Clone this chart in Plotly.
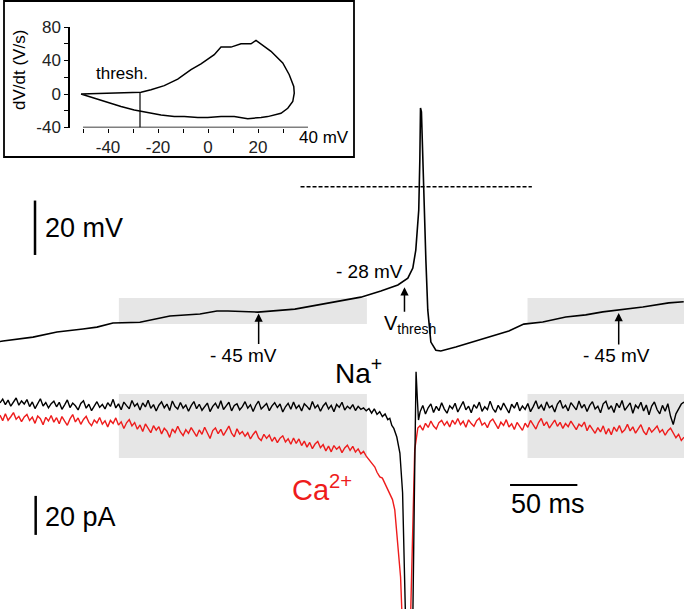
import numpy as np
import plotly.graph_objects as go

# ---------------- data ----------------
# membrane potential (time in ms, voltage in mV)
volt_t = [0, 2.2, 24.5, 42.3, 61.6, 72.0, 83.9, 103.9, 126.2, 148.5, 161.1, 169.3, 191.5, 219.0,
          243.5, 268.0, 282.9, 295.5, 302.9, 306.6, 308.8, 311.0, 311.8, 312.3, 313.0, 314.0,
          316.3, 317.7, 320.0, 323.7, 327.4, 338.5, 363.0, 377.9, 389.0, 403.1, 420.2, 435.0,
          447.7, 459.5, 477.4, 496.7, 507.8]
volt_v = [-56.9, -56.7, -55.3, -53.4, -52.3, -51.6, -50.1, -49.8, -47.5, -46.8, -45.7, -45.7,
          -46.1, -45.0, -42.8, -40.6, -38.3, -36.1, -33.6, -29.9, -23.3, -8.6, 9.8, 28.9, 27.5,
          9.8, -27.0, -45.3, -57.1, -60.1, -60.4, -58.9, -55.3, -53.0, -50.5, -49.7, -47.9,
          -47.1, -46.0, -45.3, -44.2, -42.7, -42.3]

# currents (pA); baseline segments sampled every DT ms
DT = 2.0
na_pre = [2.1, 4.0, 1.2, 3.5, 0.4, 2.8, 4.6, 0.9, 3.1, 1.5,
          3.8, 0.2, 2.6, -0.8, 1.9, 4.2, 0.5, 2.3, -0.4, 1.7,
          3.0, 0.1, 2.4, -1.2, 1.1, 3.6, -0.3, 2.0, 0.6, -1.5,
          1.8, 3.2, -0.6, 1.4, -1.9, 0.8, 2.7, -0.2, 1.3, -1.0,
          2.2, 0.3, 3.9, -0.5, 1.6, -1.4, 2.5, 0.7, -0.9, 3.3,
          0.4, 1.8, -1.6, 2.1, 0.0, 3.4, -0.7, 1.2, -2.1, 0.9,
          2.6, -0.4, 1.5, -1.8, 3.1, 0.2, -1.1, 2.3, -0.6, 1.0,
          -2.2, 0.7, 2.8, -0.9, 1.4, -1.7, 0.5, 2.0, -2.4, 0.3,
          1.9, -0.8, 3.2, -1.3, 0.6, 2.4, -2.0, 0.8, 1.6, -1.5,
          0.2, 2.7, -0.6, 1.1, -2.3, 0.9, 3.0, -1.0, 0.4, 1.8,
          -1.9, 0.6, 2.2, -0.3, 1.5, -2.6, 0.1, 1.9, -1.2, 2.5,
          -0.7, 0.9, -2.0, 1.6, 0.3, -1.4, 2.8, -0.5, 1.0, -2.2,
          0.5, 2.1, -1.0, 0.8, -2.5, 1.3, -0.2, 2.4, -1.6, 0.4,
          -0.9, 1.2, -1.8, 0.3, -1.2, -0.5, -2.0]
na_spike_t = [274, 276, 278, 280, 282, 284, 286, 288, 289.5, 291, 292.5, 294.7, 297, 299, 300,
              301.2, 303.5, 306.6, 307.7, 309, 310, 310.8]
na_spike_i = [-0.8, -3.2, -1.0, -3.8, -2.4, -4.9, -3.6, -6.5, -5.8, -9.5, -11.0, -15.4, -23.6,
              -44.0, -70.0, -109.0, -135.0, -109.0, -48.0, 18.0, 3.6, -6.7]
na_post = [-2.5, 0.8, -3.6, -0.4, 1.6, -2.8, 0.3, -1.9, 2.2, -1.1,
           -3.2, 0.6, -0.9, 1.9, -2.6, -0.2, 2.8, -1.5, 0.4, -3.0,
           1.2, -0.7, 2.5, -2.2, 0.1, -1.4, 3.0, -0.8, -2.7, 0.9,
           -1.6, 2.0, -0.3, -3.1, 1.4, -0.6, 2.4, -2.0, 0.5, -1.2,
           1.8, -2.4, 0.2, 3.2, -0.9, 1.1, -1.8, 2.6, -0.4, 0.7,
           -2.6, 1.5, 3.4, -0.7, 0.9, -2.0, 2.2, 0.0, -1.5, 3.1,
           -0.5, 1.3, -2.3, 0.8, 2.7, -1.0, 0.4, -3.0, 1.6, 2.9,
           -1.2, 0.6, -2.8, 1.9, -0.4, 3.3, -1.7, 0.2, 2.1, -3.2,
           0.9, -0.6, 2.4, -2.1, 1.0, -4.0, 0.5, 2.6, -1.3, -3.5,
           0.8, -2.2, 1.7, -4.8, -9.0, -3.5, -1.0, 1.5, 2.5]

ca_pre = [-4.2, -7.0, -3.5, -6.8, -5.0, -2.9, -6.3, -4.8, -7.5, -5.1,
          -3.8, -6.9, -5.2, -8.4, -4.6, -6.0, -9.1, -5.3, -7.2, -4.4,
          -7.8, -5.5, -8.6, -4.9, -7.3, -9.4, -6.1, -3.9, -7.7, -5.6,
          -8.9, -6.4, -4.8, -7.9, -9.6, -6.7, -8.2, -5.4, -8.8, -7.1,
          -10.2, -6.9, -8.5, -5.6, -9.3, -7.6, -11.0, -8.1, -6.5, -9.7,
          -8.0, -11.4, -9.2, -12.6, -8.7, -10.8, -13.2, -9.6, -11.9, -10.1,
          -13.8, -10.9, -12.4, -15.6, -11.3, -13.1, -9.9, -12.8, -14.7, -11.6,
          -13.5, -10.6, -12.9, -15.1, -11.8, -14.0, -10.4, -13.2, -16.2, -12.1,
          -10.8, -13.7, -11.5, -14.6, -12.0, -9.8, -13.4, -15.3, -11.2, -13.9,
          -12.6, -15.0, -13.2, -16.4, -14.1, -12.3, -15.8, -17.2, -14.0, -16.1,
          -14.4, -17.6, -15.5, -18.3, -16.0, -14.8, -17.9, -16.3, -19.1, -15.9,
          -18.7, -16.4, -19.8, -17.5, -20.6, -18.2, -21.4, -19.0, -17.7, -20.9,
          -19.3, -22.5, -20.1, -23.0, -19.8, -21.7, -20.4, -23.4, -21.0, -19.6,
          -22.3, -20.2, -23.1, -21.5, -24.0, -22.8, -25.2]
ca_spike_t = [274, 276, 278.4, 280, 282.1, 284, 285.8, 287.5, 289.5, 291.5, 293.2, 295.5,
              297.5, 298.4, 299.2, 302, 304.9, 306.6, 308, 310.3]
ca_spike_i = [-26.8, -28.9, -30.8, -33.5, -35.9, -36.5, -39.0, -41.8, -44.1, -47.5, -52.8,
              -69.7, -87.2, -103.6, -119.0, -150.0, -109.0, -58.0, -22.0, -10.8]
ca_post = [-9.6, -11.9, -8.4, -10.5, -7.2, -9.8, -11.3, -8.0, -6.9, -9.4,
           -7.5, -10.2, -6.8, -8.9, -5.9, -9.1, -7.3, -10.4, -6.6, -8.5,
           -9.9, -7.0, -5.8, -9.3, -8.1, -10.6, -7.4, -6.2, -9.0, -11.1,
           -7.8, -9.5, -6.5, -10.3, -8.6, -11.5, -7.9, -9.7, -12.0, -8.3,
           -10.4, -6.9, -9.2, -11.3, -8.0, -5.9, -9.6, -7.6, -10.8, -8.4,
           -6.7, -9.9, -7.9, -11.0, -8.5, -10.1, -7.2, -9.4, -11.6, -8.8,
           -10.0, -7.7, -12.2, -9.3, -11.4, -13.5, -10.6, -12.8, -9.7, -13.9,
           -11.1, -14.2, -10.3, -12.5, -9.5, -13.1, -11.7, -8.9, -12.3, -10.2,
           -13.4, -11.0, -9.1, -12.6, -14.3, -10.5, -12.9, -11.4, -9.8, -13.0,
           -11.6, -14.5, -12.2, -10.9, -13.6, -15.8, -14.0, -17.2, -15.5]

PRE_START = 0.0
POST_START = 312.0

# phase plot (inset): membrane potential (mV) vs dV/dt (V/s)
phase_v = [-50.8, -42.8, -34.8, -26.8, -22.8, -17.5, -12.1, -6.8, -2.8, 2.5, 5.2, 9.2, 13.2,
           17.2, 19.2, 21.2, 25.2, 29.9, 32.5, 34.3, 34.5, 33.9, 31.9, 29.2, 23.9, 21.2, 15.9,
           10.5, 5.2, -0.1, -4.1, -9.5, -13.5, -18.8, -24.1, -29.5, -34.8, -40.1, -45.5, -50.8]
phase_dvdt = [0, 0.5, 1, 2, 5, 10, 17.8, 29, 36, 47, 56, 56, 60, 60, 64, 60, 51, 37, 23, 9, 1,
              -9, -17, -23, -27, -28, -29.5, -27, -27, -28, -28, -27, -27, -25, -22, -19, -15,
              -10, -5, 0]
thresh_v = -27.2

# ---------------- figure ----------------
W, H = 684, 609
FONT = "Liberation Sans, Arial, sans-serif"
RED = "#ee1c1c"

na_t = list(PRE_START + DT * np.arange(len(na_pre))) + na_spike_t + list(POST_START + DT * np.arange(len(na_post)))
na_i = na_pre + na_spike_i + na_post
ca_t = list(PRE_START + DT * np.arange(len(ca_pre))) + ca_spike_t + list(POST_START + DT * np.arange(len(ca_post)))
ca_i = ca_pre + ca_spike_i + ca_post

fig = go.Figure()
fig.add_trace(go.Scatter(x=volt_t, y=volt_v, mode="lines", line=dict(color="black", width=1.6),
                         xaxis="x", yaxis="y", showlegend=False, hoverinfo="skip"))
fig.add_trace(go.Scatter(x=ca_t, y=ca_i, mode="lines", line=dict(color=RED, width=1.4),
                         xaxis="x", yaxis="y2", showlegend=False, hoverinfo="skip"))
fig.add_trace(go.Scatter(x=na_t, y=na_i, mode="lines", line=dict(color="black", width=1.4),
                         xaxis="x", yaxis="y2", showlegend=False, hoverinfo="skip"))
fig.add_trace(go.Scatter(x=phase_v, y=phase_dvdt, mode="lines", line=dict(color="black", width=1.5),
                         xaxis="x2", yaxis="y3", showlegend=False, hoverinfo="skip"))
fig.add_trace(go.Scatter(x=[thresh_v, thresh_v], y=[2, -40], mode="lines",
                         line=dict(color="black", width=1.2),
                         xaxis="x2", yaxis="y3", showlegend=False, hoverinfo="skip"))

GRAY = "#e6e6e6"
shapes = [
    # shaded analysis windows
    dict(type="rect", xref="x", yref="y", x0=88.3, x1=272.5, y0=-50.5, y1=-40.9,
         fillcolor=GRAY, line=dict(width=0), layer="below"),
    dict(type="rect", xref="x", yref="y", x0=391.8, x1=510, y0=-50.5, y1=-40.9,
         fillcolor=GRAY, line=dict(width=0), layer="below"),
    dict(type="rect", xref="x", yref="y2", x0=88.3, x1=272.5, y0=-26.2, y1=6.7,
         fillcolor=GRAY, line=dict(width=0), layer="below"),
    dict(type="rect", xref="x", yref="y2", x0=391.8, x1=510, y0=-26.2, y1=6.7,
         fillcolor=GRAY, line=dict(width=0), layer="below"),
    # 0 mV dashed line
    dict(type="line", xref="x", yref="y", x0=223.2, x1=395, y0=0, y1=0,
         line=dict(color="black", width=1.5, dash="4px,2px")),
    # scale bars
    dict(type="line", xref="x", yref="y", x0=26, x1=26, y0=-5.1, y1=-25.1,
         line=dict(color="black", width=2.5)),
    dict(type="line", xref="x", yref="y2", x0=26.5, x1=26.5, y0=-45.6, y1=-65.6,
         line=dict(color="black", width=2.5)),
    dict(type="line", xref="x", yref="y2", x0=378.8, x1=428.8, y0=-40, y1=-40,
         line=dict(color="black", width=2.2)),
    # inset frame
    dict(type="rect", xref="paper", yref="paper", x0=4 / W, x1=354 / W, y0=1 - 157 / H, y1=1 - 1 / H,
         line=dict(color="black", width=1.8), fillcolor="rgba(0,0,0,0)"),
    # inset x axis line
    dict(type="line", xref="x2", yref="y3", x0=-50, x1=40, y0=-40, y1=-40,
         line=dict(color="black", width=1.5)),
]

ann = []
def txt(x, y, s, size, xref="x", yref="y", xanchor="center", yanchor="middle", color="black", angle=0):
    ann.append(dict(x=x, y=y, xref=xref, yref=yref, text=s, showarrow=False, xanchor=xanchor,
                    yanchor=yanchor, textangle=angle, font=dict(family=FONT, size=size, color=color)))

txt(31.7, -15.2, "20 mV", 27, xanchor="left")
txt(31.9, -56.4, "20 pA", 27, yref="y2", xanchor="left")
txt(406.8, -49.7, "50 ms", 27, yref="y2")
txt(247.5, 18.5, "Na<sup>+</sup>", 28, yref="y2", xanchor="left")
txt(215.5, -41.5, "Ca<sup>2+</sup>", 29, yref="y2", xanchor="left", color=RED)
txt(274.7, -31.0, "- 28 mV", 19)
txt(284.0, -50.5, "V<sub>thresh</sub>", 20, xanchor="left")
txt(181.1, -62.2, "- 45 mV", 19)
txt(458.0, -62.2, "- 45 mV", 19)
# inset texts
txt(-34.4, 25, "thresh.", 17, xref="x2", yref="y3")
txt(20 / W, 1 - 70 / H, "dV/dt (V/s)", 17, xref="paper", yref="paper", angle=-90)
txt(297 / W, 1 - 138 / H, "40 mV", 17, xref="paper", yref="paper", xanchor="left")

# arrows
for (xt, yt, ay) in [(192.1, -46.6, 32), (300.4, -37.0, 26), (459.5, -46.4, 33)]:
    ann.append(dict(x=xt, y=yt, xref="x", yref="y", ax=0, ay=ay, text="", showarrow=True,
                    arrowhead=2, arrowsize=1.1, arrowwidth=1.5, arrowcolor="black"))

hidden = dict(visible=False, showgrid=False, zeroline=False, fixedrange=True)
fig.update_layout(
    width=W, height=H, margin=dict(l=0, r=0, t=0, b=0, pad=0),
    paper_bgcolor="white", plot_bgcolor="rgba(0,0,0,0)",
    xaxis=dict(domain=[0, 1], range=[0, 508], **hidden),
    yaxis=dict(domain=[0, 1], range=[-155.2, 68.6], **hidden),
    yaxis2=dict(domain=[0, 1], range=[-103.6, 208.7], overlaying="y", anchor="x", **hidden),
    xaxis2=dict(domain=[70 / W, 308 / W], range=[-55.2, 40], anchor="y3",
                showline=False, showgrid=False, zeroline=False, ticks="outside", ticklen=4,
                tickwidth=1.2, tickcolor="black",
                tickvals=[-50, -40, -30, -20, -10, 0, 10, 20, 30],
                ticktext=["", "-40", "", "-20", "", "0", "", "20", ""],
                tickfont=dict(family=FONT, size=17, color="#222"), automargin=False),
    yaxis3=dict(domain=[1 - 127.5 / H, 1 - 27 / H], range=[-40, 80], anchor="x2",
                showline=True, linecolor="black", linewidth=1.5, showgrid=False, zeroline=False,
                ticks="outside", ticklen=4, tickwidth=1.2, tickcolor="black",
                tickvals=[-40, -20, 0, 20, 40, 60, 80],
                ticktext=["-40", "", "0", "", "40", "", "80"],
                tickfont=dict(family=FONT, size=17, color="#222"), automargin=False),
    shapes=shapes, annotations=ann,
)

fig.write_html("out.html", config={"displayModeBar": False},
               post_script="document.body.style.margin='0';document.body.style.padding='0';"
                           "document.body.style.overflow='hidden';")
